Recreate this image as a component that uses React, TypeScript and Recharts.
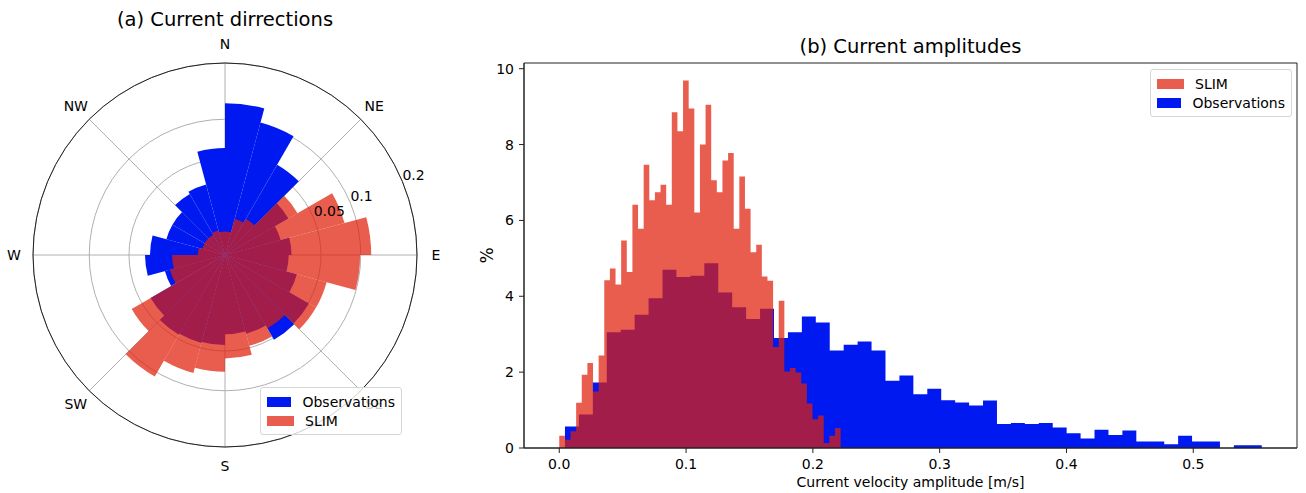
import React from "react";
import {
  Area,
  ComposedChart,
  PolarAngleAxis,
  PolarGrid,
  PolarRadiusAxis,
  RadialBar,
  RadialBarChart,
  ReferenceArea,
  XAxis,
  YAxis,
} from "recharts";

const FONT = "'DejaVu Sans', sans-serif";
const BLUE = "#0019f0";
const RED = "#e01e0a";
const RED_ALPHA = 0.72;

// (a) direction rose: 24 bins of 15 degrees, clockwise from north
const dirBins = [0, 15, 30, 45, 60, 75, 90, 105, 120, 135, 150, 165, 180, 195, 210, 225, 240, 255, 270, 285, 300, 315, 330, 345];
const obsDir = [0.125, 0.102, 0.059, 0.029, 0.018, 0.024, 0.022, 0.03, 0.051, 0.052, 0.036, 0.034, 0.044, 0.045, 0.046, 0.04, 0.021, 0.0347, 0.0305, 0.02, 0.02, 0.027, 0.029, 0.062];
const slimDir = [0.003, 0.0075, 0.0095, 0.038, 0.083, 0.116, 0.099, 0.06, 0.06, 0.039, 0.048, 0.058, 0.074, 0.081, 0.107, 0.063, 0.0176, 0.0152, 0.004, 0.003, 0.003, 0.003, 0.0035, 0.003];
const compassTicks = [0, 45, 90, 135, 180, 225, 270, 315];
const compassLabels = ["N", "NE", "E", "SE", "S", "SW", "W", "NW"];
const radiusTicks = [0.05, 0.1, 0.2];

// (b) amplitude histograms, % per bin (50 bins each)
const slimPct = [
  0.32, 0.22, 0.44, 1.19, 1.93, 2.24, 1.49, 2.44, 4.42, 4.73,
  4.31, 5.47, 4.64, 6.41, 5.78, 7.47, 6.53, 6.74, 6.94, 6.41,
  8.85, 8.35, 9.69, 8.95, 6.21, 8.0, 9.05, 7.06, 6.74, 7.58,
  7.78, 5.78, 7.16, 6.31, 5.16, 5.36, 4.52, 4.41, 2.66, 3.88,
  2.02, 2.11, 1.99, 1.7, 1.17, 0.76, 0.86, 0.13, 0.32, 0.53,
];
const obsPct = [
  0.57, 0.88, 1.73, 3.05, 3.12, 3.51, 3.95, 4.7, 4.51, 4.54,
  4.87, 4.1, 3.71, 3.4, 3.67, 2.9, 3.05, 3.47, 3.31, 2.57,
  2.72, 2.81, 2.57, 1.77, 1.91, 1.42, 1.56, 1.26, 1.2, 1.12,
  1.25, 0.63, 0.66, 0.63, 0.66, 0.54, 0.39, 0.25, 0.48, 0.34,
  0.46, 0.17, 0.17, 0.1, 0.32, 0.17, 0.17, 0, 0.07, 0.07,
];
const slimRange = [0, 0.2219];
const obsRange = [0.0045, 0.554];
const ampDomain = [-0.0278, 0.5818];
const pctDomain = [0, 10.15];
const ampTicks = [0, 0.1, 0.2, 0.3, 0.4, 0.5];
const pctTicks = [0, 2, 4, 6, 8, 10];

const CX = 225;
const CY = 255;
const R = 192;
const SPOKES = [90, 45, 0, -45, -90, -135, -180, -225];

function histPoints(values: number[], range: number[]) {
  const w = (range[1] - range[0]) / values.length;
  const pts = values.map((y, i) => ({ x: range[0] + i * w, y }));
  pts.push({ x: range[1], y: values[values.length - 1] });
  return pts;
}

const roseRows = dirBins.map((d, i) => ({ dir: d, obs: obsDir[i], slim: slimDir[i] }));
const slimPoints = histPoints(slimPct, slimRange);
const obsPoints = histPoints(obsPct, obsRange);

// compass label at the bin whose start angle is a multiple of 45
function CompassTick(props: any) {
  const { payload } = props;
  const idx = compassTicks.indexOf(payload.value);
  if (idx < 0) return <g />;
  const a = ((payload.value - 90) * Math.PI) / 180;
  const rr = R + 19;
  return (
    <text x={CX + rr * Math.cos(a)} y={CY + rr * Math.sin(a)} textAnchor="middle" dominantBaseline="central" fontSize={14} fontFamily={FONT} fill="#000">
      {compassLabels[idx]}
    </text>
  );
}

function RadiusTick(props: any) {
  const { x, y, payload } = props;
  return (
    <text x={x} y={y - 2} textAnchor="start" fontSize={14} fontFamily={FONT} fill="#000">
      {String(payload.value)}
    </text>
  );
}

function LegendBox({ items, style }: { items: { label: string; color: string }[]; style: React.CSSProperties }) {
  return (
    <div
      style={{
        position: "absolute",
        background: "rgba(255,255,255,0.8)",
        border: "1px solid #d6d6d6",
        borderRadius: 3,
        padding: "4px 6px",
        fontFamily: FONT,
        fontSize: 14,
        ...style,
      }}
    >
      {items.map((it) => (
        <div key={it.label} style={{ display: "flex", alignItems: "center", height: 19 }}>
          <span style={{ width: 27, height: 10, background: it.color, marginRight: 11, display: "inline-block" }} />
          <span>{it.label}</span>
        </div>
      ))}
    </div>
  );
}

export default function App() {
  const slimSwatch = `rgba(224,30,10,${RED_ALPHA})`;
  return (
    <div style={{ position: "absolute", left: 0, top: 0, width: 1306, height: 493, background: "#fff", fontFamily: FONT }}>
      <div style={{ position: "absolute", left: 0, top: 8, width: 450, textAlign: "center", fontSize: 19.5 }}>
        (a) Current dirrections
      </div>
      <div style={{ position: "absolute", left: 0, top: 0 }}>
        <RadialBarChart
          width={450}
          height={493}
          data={roseRows}
          cx={CX}
          cy={CY}
          innerRadius={0}
          outerRadius={R}
          startAngle={75}
          endAngle={-285}
          layout="centric"
          barCategoryGap={0}
          barGap={-15}
          margin={{ top: 0, right: 0, bottom: 0, left: 0 }}
        >
          <PolarGrid gridType="circle" stroke="#b0b0b0" polarAngles={SPOKES} />
          <PolarAngleAxis
            dataKey="dir"
            type="category"
            tick={CompassTick}
            tickLine={false}
            axisLineType="circle"
            axisLine={{ stroke: "#222" }}
          />
          <PolarRadiusAxis
            type="number"
            scale="sqrt"
            domain={[0, 0.2]}
            ticks={radiusTicks}
            angle={22.5}
            axisLine={false}
            tickLine={false}
            tick={RadiusTick}
            allowDataOverflow
          />
          <RadialBar dataKey="obs" fill={BLUE} isAnimationActive={false} />
          <RadialBar dataKey="slim" fill={RED} fillOpacity={RED_ALPHA} isAnimationActive={false} />
        </RadialBarChart>
      </div>
      <LegendBox
        style={{ left: 260, top: 387, width: 128 }}
        items={[
          { label: "Observations", color: BLUE },
          { label: "SLIM", color: slimSwatch },
        ]}
      />

      <div style={{ position: "absolute", left: 524, top: 35, width: 773, textAlign: "center", fontSize: 19.5 }}>
        (b) Current amplitudes
      </div>
      <div style={{ position: "absolute", left: 470, top: 0 }}>
        <ComposedChart width={836} height={493} margin={{ top: 63, right: 9, bottom: 0, left: 0 }}>
          <XAxis
            dataKey="x"
            type="number"
            domain={ampDomain}
            ticks={ampTicks}
            tickFormatter={(v: number) => v.toFixed(1)}
            allowDataOverflow
            height={45}
            tickSize={5}
            tickMargin={6}
            stroke="#222"
            tick={{ fill: "#000", fontSize: 14, fontFamily: FONT }}
            label={(p: any) => (
              <text x={p.viewBox.x + p.viewBox.width / 2} y={487} textAnchor="middle" fontSize={14} fontFamily={FONT} fill="#000">
                Current velocity amplitude [m/s]
              </text>
            )}
          />
          <YAxis
            type="number"
            domain={pctDomain}
            ticks={pctTicks}
            allowDataOverflow
            width={54}
            tickSize={5}
            tickMargin={5}
            stroke="#222"
            tick={{ fill: "#000", fontSize: 14, fontFamily: FONT }}
            label={(p: any) => {
              const cy = p.viewBox.y + p.viewBox.height / 2;
              return (
                <text x={17} y={cy} transform={`rotate(-90, 17, ${cy})`} textAnchor="middle" dominantBaseline="central" fontSize={17} fontFamily={FONT} fill="#000">
                  %
                </text>
              );
            }}
          />
          <Area data={obsPoints} dataKey="y" type="stepAfter" fill={BLUE} fillOpacity={1} stroke="none" baseValue={0} isAnimationActive={false} />
          <Area data={slimPoints} dataKey="y" type="stepAfter" fill={RED} fillOpacity={RED_ALPHA} stroke="none" baseValue={0} isAnimationActive={false} />
          <ReferenceArea x1={ampDomain[0]} x2={ampDomain[1]} y1={pctDomain[0]} y2={pctDomain[1]} fill="none" stroke="#222" ifOverflow="visible" />
        </ComposedChart>
      </div>
      <LegendBox
        style={{ left: 1150, top: 69, width: 128 }}
        items={[
          { label: "SLIM", color: slimSwatch },
          { label: "Observations", color: BLUE },
        ]}
      />
    </div>
  );
}
